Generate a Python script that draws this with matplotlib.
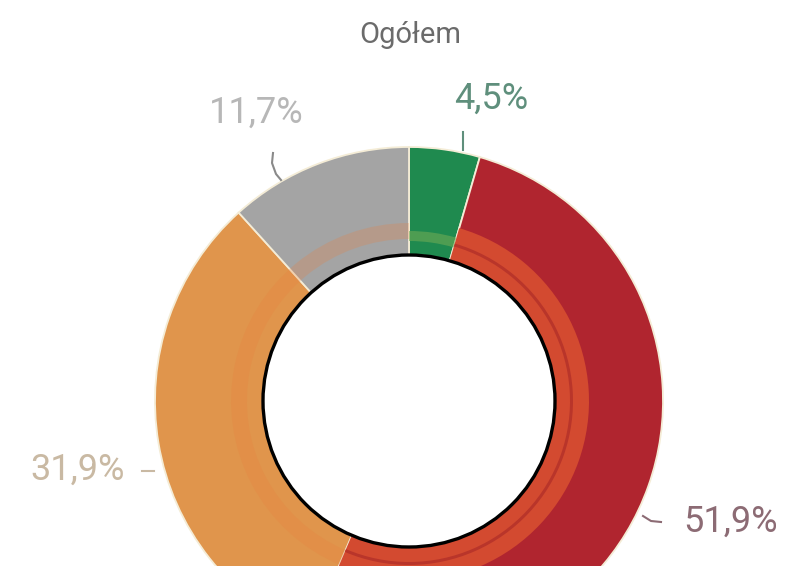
import matplotlib.pyplot as plt
from matplotlib.patches import Wedge, Circle
import numpy as np

# dane
labels = ['4,5%', '51,9%', '31,9%', '11,7%']
values = [4.5, 51.9, 31.9, 11.7]
colors = ['#1f8a4f', '#b0252f', '#e0954c', '#a4a4a4']
label_colors = ['#5f8f7c', '#8c6b74', '#c9b9a3', '#b7b7b7']
title = 'Ogółem'

W, H = 787, 566
cx, cy = 409, H - 401
R_out, R_in = 254, 146

fig = plt.figure(figsize=(W / 100, H / 100), dpi=100)
ax = fig.add_axes([0, 0, 1, 1])

wedges, _ = ax.pie(values, colors=colors, startangle=90, counterclock=False,
                   center=(cx, cy), radius=R_out,
                   wedgeprops=dict(width=R_out - R_in, edgecolor='#f4ecd6', linewidth=1.3))

# pierścienie przy środku
ang = 90 - np.cumsum([0] + values) * 3.6
ax.add_patch(Wedge((cx, cy), 178, ang[4], ang[2], width=16, facecolor='#e8803e', alpha=0.25, lw=0))
ax.add_patch(Wedge((cx, cy), 180, ang[2], ang[1], width=33, facecolor='#d34a30', lw=0))
ax.add_patch(Wedge((cx, cy), 164, ang[2], ang[1], width=3, facecolor='#b9352a', lw=0))
ax.add_patch(Wedge((cx, cy), 170, ang[1], ang[0], width=10, facecolor='#6faa55', alpha=0.6, lw=0))
ax.add_patch(Circle((cx, cy), R_in, facecolor='white', edgecolor='black', lw=2.4, zorder=5))

font = dict(family=['Roboto', 'DejaVu Sans'], fontweight='normal', fontsize=26)

# etykiety
ax.text(491, H - 99, labels[0], color=label_colors[0], ha='center', va='center', **font)
ax.plot([463, 463], [H - 132, H - 150], color=label_colors[0], lw=1.5)
ax.text(731, H - 522, labels[1], color=label_colors[1], ha='center', va='center', **font)
ax.plot([643, 651, 661], [H - 516, H - 521, H - 522], color=label_colors[1], lw=1.5)
ax.text(78, H - 470, labels[2], color=label_colors[2], ha='center', va='center', **font)
ax.plot([142, 154], [H - 471, H - 471], color=label_colors[2], lw=1.5)
ax.text(256, H - 113, labels[3], color=label_colors[3], ha='center', va='center', **font)
ax.plot([273, 272, 276, 281], [H - 153, H - 163, H - 174, H - 180], color='#8a8a8a', lw=1.5)

ax.text(410, H - 35, title, color='#6b6b6b', ha='center', va='center',
        family=['Roboto', 'DejaVu Sans'], fontsize=21)

ax.set_xlim(0, W)
ax.set_ylim(0, H)
ax.set_aspect('equal')
ax.axis('off')

fig.savefig('out.png', dpi=100)
